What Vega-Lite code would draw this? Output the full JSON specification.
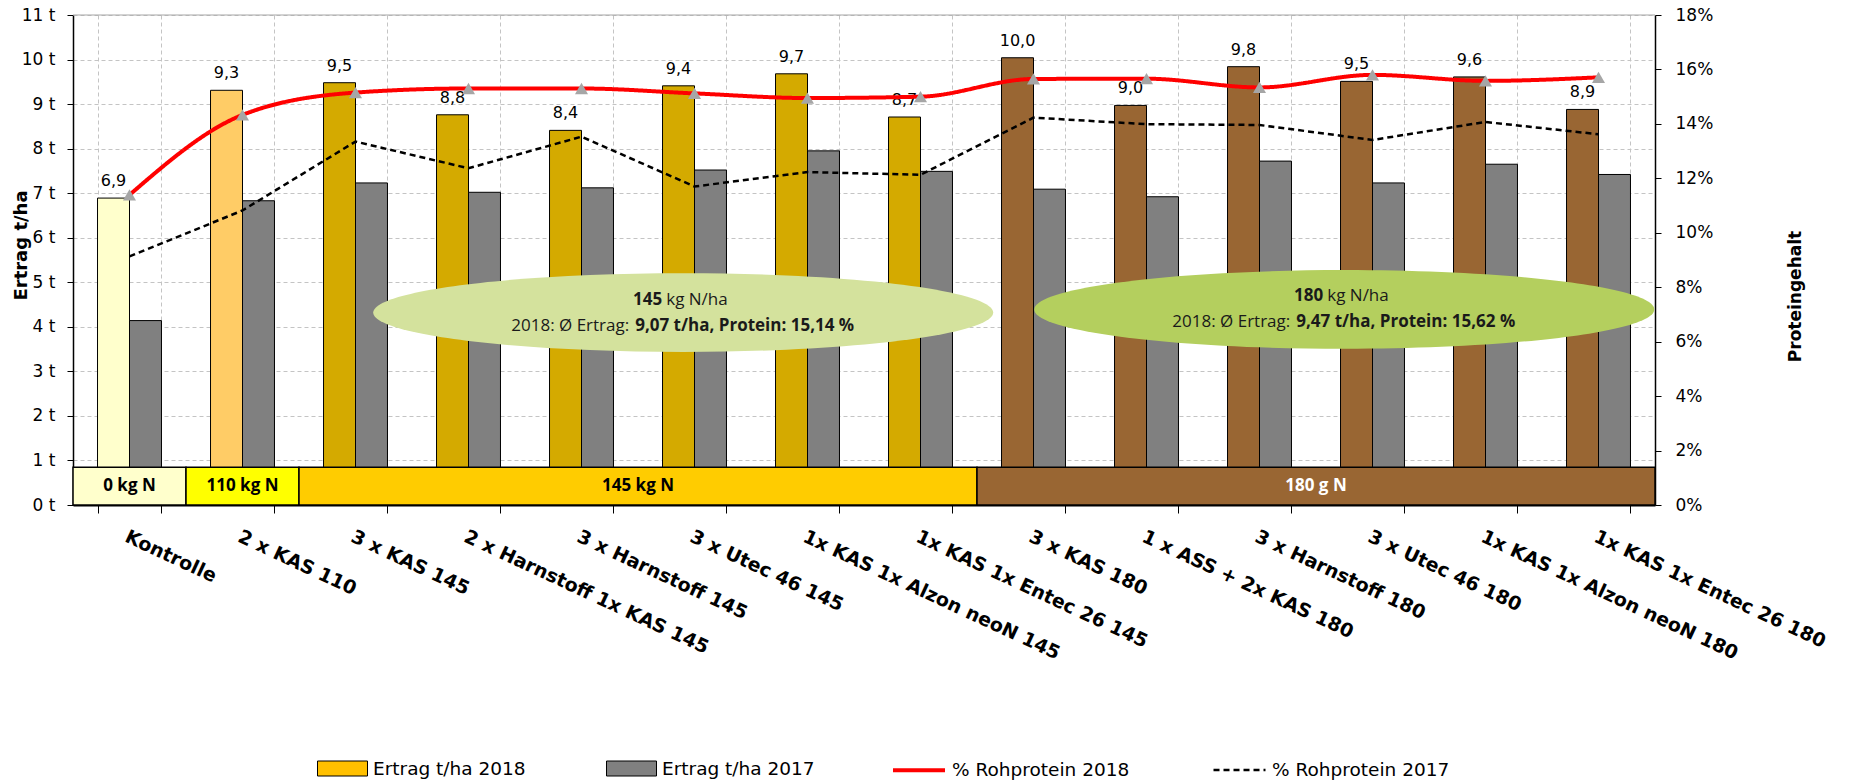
{
  "$schema": "https://vega.github.io/schema/vega-lite/v6.json",
  "autosize": {"type": "none"},
  "padding": {"left": 73, "top": 15, "right": 201, "bottom": 279},
  "width": 1582,
  "height": 490,
  "background": "white",
  "config": {
    "locale": {"number": {"decimal": ",", "thousands": ".", "grouping": [3], "currency": ["", " €"]}},
    "font": "DejaVu Sans",
    "view": {"stroke": null},
    "axis": {"labelFont": "DejaVu Sans", "titleFont": "DejaVu Sans", "labelColor": "black", "titleColor": "black", "domainColor": "black", "tickColor": "black"},
    "axisX": {"title": null, "tickBand": "extent", "labelAngle": 25, "labelAlign": "left", "labelBaseline": "top", "labelFontWeight": "bold", "labelFontSize": 19, "labelPadding": 14, "tickSize": 8, "labelLimit": 0, "labelOverlap": false, "grid": true, "gridDash": [4, 3], "gridColor": "#C4C4C4", "domainWidth": 2},
    "legend": {"labelFont": "DejaVu Sans", "labelColor": "black", "padding": 0}
  },
  "datasets": {
    "ertrag": [
      {"behandlung": "Kontrolle", "jahr": "2018", "ertrag": 6.89, "klasse": "0 kg N"},
      {"behandlung": "2 x KAS  110", "jahr": "2018", "ertrag": 9.31, "klasse": "110 kg N"},
      {"behandlung": "3 x KAS 145", "jahr": "2018", "ertrag": 9.48, "klasse": "145 kg N"},
      {"behandlung": "2 x Harnstoff 1x KAS 145", "jahr": "2018", "ertrag": 8.76, "klasse": "145 kg N"},
      {"behandlung": "3 x Harnstoff 145", "jahr": "2018", "ertrag": 8.41, "klasse": "145 kg N"},
      {"behandlung": "3 x Utec 46 145", "jahr": "2018", "ertrag": 9.41, "klasse": "145 kg N"},
      {"behandlung": "1x KAS 1x Alzon neoN 145", "jahr": "2018", "ertrag": 9.68, "klasse": "145 kg N"},
      {"behandlung": "1x KAS 1x Entec 26 145", "jahr": "2018", "ertrag": 8.71, "klasse": "145 kg N"},
      {"behandlung": "3 x KAS 180", "jahr": "2018", "ertrag": 10.04, "klasse": "180 kg N"},
      {"behandlung": "1 x ASS + 2x KAS 180", "jahr": "2018", "ertrag": 8.97, "klasse": "180 kg N"},
      {"behandlung": "3 x Harnstoff 180", "jahr": "2018", "ertrag": 9.84, "klasse": "180 kg N"},
      {"behandlung": "3 x Utec 46 180", "jahr": "2018", "ertrag": 9.51, "klasse": "180 kg N"},
      {"behandlung": "1x KAS 1x Alzon neoN 180", "jahr": "2018", "ertrag": 9.61, "klasse": "180 kg N"},
      {"behandlung": "1x KAS 1x Entec 26 180", "jahr": "2018", "ertrag": 8.88, "klasse": "180 kg N"},
      {"behandlung": "Kontrolle", "jahr": "2017", "ertrag": 4.14, "klasse": "Ertrag t/ha 2017"},
      {"behandlung": "2 x KAS  110", "jahr": "2017", "ertrag": 6.83, "klasse": "Ertrag t/ha 2017"},
      {"behandlung": "3 x KAS 145", "jahr": "2017", "ertrag": 7.23, "klasse": "Ertrag t/ha 2017"},
      {"behandlung": "2 x Harnstoff 1x KAS 145", "jahr": "2017", "ertrag": 7.02, "klasse": "Ertrag t/ha 2017"},
      {"behandlung": "3 x Harnstoff 145", "jahr": "2017", "ertrag": 7.12, "klasse": "Ertrag t/ha 2017"},
      {"behandlung": "3 x Utec 46 145", "jahr": "2017", "ertrag": 7.52, "klasse": "Ertrag t/ha 2017"},
      {"behandlung": "1x KAS 1x Alzon neoN 145", "jahr": "2017", "ertrag": 7.95, "klasse": "Ertrag t/ha 2017"},
      {"behandlung": "1x KAS 1x Entec 26 145", "jahr": "2017", "ertrag": 7.49, "klasse": "Ertrag t/ha 2017"},
      {"behandlung": "3 x KAS 180", "jahr": "2017", "ertrag": 7.09, "klasse": "Ertrag t/ha 2017"},
      {"behandlung": "1 x ASS + 2x KAS 180", "jahr": "2017", "ertrag": 6.92, "klasse": "Ertrag t/ha 2017"},
      {"behandlung": "3 x Harnstoff 180", "jahr": "2017", "ertrag": 7.72, "klasse": "Ertrag t/ha 2017"},
      {"behandlung": "3 x Utec 46 180", "jahr": "2017", "ertrag": 7.23, "klasse": "Ertrag t/ha 2017"},
      {"behandlung": "1x KAS 1x Alzon neoN 180", "jahr": "2017", "ertrag": 7.65, "klasse": "Ertrag t/ha 2017"},
      {"behandlung": "1x KAS 1x Entec 26 180", "jahr": "2017", "ertrag": 7.42, "klasse": "Ertrag t/ha 2017"}
    ],
    "protein": [
      {"behandlung": "Kontrolle", "serie": "% Rohprotein 2018", "protein": 11.39},
      {"behandlung": "2 x KAS  110", "serie": "% Rohprotein 2018", "protein": 14.33},
      {"behandlung": "3 x KAS 145", "serie": "% Rohprotein 2018", "protein": 15.15},
      {"behandlung": "2 x Harnstoff 1x KAS 145", "serie": "% Rohprotein 2018", "protein": 15.3},
      {"behandlung": "3 x Harnstoff 145", "serie": "% Rohprotein 2018", "protein": 15.3},
      {"behandlung": "3 x Utec 46 145", "serie": "% Rohprotein 2018", "protein": 15.12},
      {"behandlung": "1x KAS 1x Alzon neoN 145", "serie": "% Rohprotein 2018", "protein": 14.95},
      {"behandlung": "1x KAS 1x Entec 26 145", "serie": "% Rohprotein 2018", "protein": 15.0},
      {"behandlung": "3 x KAS 180", "serie": "% Rohprotein 2018", "protein": 15.65},
      {"behandlung": "1 x ASS + 2x KAS 180", "serie": "% Rohprotein 2018", "protein": 15.66},
      {"behandlung": "3 x Harnstoff 180", "serie": "% Rohprotein 2018", "protein": 15.34},
      {"behandlung": "3 x Utec 46 180", "serie": "% Rohprotein 2018", "protein": 15.8},
      {"behandlung": "1x KAS 1x Alzon neoN 180", "serie": "% Rohprotein 2018", "protein": 15.58},
      {"behandlung": "1x KAS 1x Entec 26 180", "serie": "% Rohprotein 2018", "protein": 15.71},
      {"behandlung": "Kontrolle", "serie": "% Rohprotein 2017", "protein": 9.13},
      {"behandlung": "2 x KAS  110", "serie": "% Rohprotein 2017", "protein": 10.82},
      {"behandlung": "3 x KAS 145", "serie": "% Rohprotein 2017", "protein": 13.35},
      {"behandlung": "2 x Harnstoff 1x KAS 145", "serie": "% Rohprotein 2017", "protein": 12.37},
      {"behandlung": "3 x Harnstoff 145", "serie": "% Rohprotein 2017", "protein": 13.53},
      {"behandlung": "3 x Utec 46 145", "serie": "% Rohprotein 2017", "protein": 11.7},
      {"behandlung": "1x KAS 1x Alzon neoN 145", "serie": "% Rohprotein 2017", "protein": 12.23},
      {"behandlung": "1x KAS 1x Entec 26 145", "serie": "% Rohprotein 2017", "protein": 12.13},
      {"behandlung": "3 x KAS 180", "serie": "% Rohprotein 2017", "protein": 14.23},
      {"behandlung": "1 x ASS + 2x KAS 180", "serie": "% Rohprotein 2017", "protein": 13.99},
      {"behandlung": "3 x Harnstoff 180", "serie": "% Rohprotein 2017", "protein": 13.96},
      {"behandlung": "3 x Utec 46 180", "serie": "% Rohprotein 2017", "protein": 13.41},
      {"behandlung": "1x KAS 1x Alzon neoN 180", "serie": "% Rohprotein 2017", "protein": 14.07},
      {"behandlung": "1x KAS 1x Entec 26 180", "serie": "% Rohprotein 2017", "protein": 13.62}
    ],
    "stufen": [
      {"stufe": "0 kg N", "von": 0, "bis": 1},
      {"stufe": "110 kg N", "von": 1, "bis": 2},
      {"stufe": "145 kg N", "von": 2, "bis": 8},
      {"stufe": "180 g N", "von": 8, "bis": 14}
    ],
    "ellipsen": [
      {"gruppe": "145 kg N/ha", "pos": 5.4, "hoehe": 4.32, "z1a": "145", "z1b": "kg N/ha", "z2a": "2018: Ø Ertrag:", "z2b": "9,07 t/ha, Protein: 15,14 %"},
      {"gruppe": "180 kg N/ha", "pos": 11.25, "hoehe": 4.39, "z1a": "180", "z1b": "kg N/ha", "z2a": "2018: Ø Ertrag:", "z2b": "9,47 t/ha, Protein: 15,62 %"}
    ]
  },
  "layer": [
    {
      "layer": [
        {
          "data": {"name": "ertrag"},
          "layer": [
            {
              "mark": {"type": "bar", "stroke": "black", "strokeWidth": 1},
              "encoding": {
                "x": {
                  "field": "behandlung", "type": "nominal", "sort": null, "title": null,
                  "scale": {"domain": ["Kontrolle","2 x KAS  110","3 x KAS 145","2 x Harnstoff 1x KAS 145","3 x Harnstoff 145","3 x Utec 46 145","1x KAS 1x Alzon neoN 145","1x KAS 1x Entec 26 145","3 x KAS 180","1 x ASS + 2x KAS 180","3 x Harnstoff 180","3 x Utec 46 180","1x KAS 1x Alzon neoN 180","1x KAS 1x Entec 26 180"], "paddingInner": 0.434, "paddingOuter": 0.217}
                },
                "xOffset": {"field": "jahr", "type": "nominal", "sort": ["2018", "2017"], "scale": {"paddingInner": 0, "paddingOuter": 0}},
                "y": {
                  "field": "ertrag", "type": "quantitative",
                  "scale": {"domain": [0, 11], "nice": false},
                  "axis": {"title": "Ertrag t/ha", "values": [0,1,2,3,4,5,6,7,8,9,10,11], "labelExpr": "datum.value + ' t'", "grid": true, "gridDash": [4, 3], "gridColor": "#C4C4C4", "tickSize": 6, "labelPadding": 12, "labelFontSize": 17, "titleFontSize": 18, "titleFontWeight": "bold", "titleX": -52, "titleY": 230, "titleAngle": -90, "titleAlign": "center", "titleBaseline": "middle", "domainWidth": 1.5}
                },
                "fill": {
                  "field": "klasse", "type": "nominal",
                  "scale": {"domain": ["Ertrag t/ha 2018", "Ertrag t/ha 2017", "0 kg N", "110 kg N", "145 kg N", "180 kg N"], "range": ["#FFC000", "#808080", "#FFFFCC", "#FFCC66", "#D4AA00", "#996633"]},
                  "legend": {"values": ["Ertrag t/ha 2018", "Ertrag t/ha 2017"], "title": null, "orient": "none", "legendX": 244, "legendY": 728, "direction": "horizontal", "symbolType": "M -1 -0.3 L 1 -0.3 L 1 0.3 L -1 0.3 Z", "symbolSize": 2500, "symbolStrokeColor": "black", "symbolStrokeWidth": 1, "labelFontSize": 18.5, "labelOffset": 5, "columnPadding": 78, "labelLimit": 0}
                }
              }
            },
            {
              "transform": [{"filter": "datum.jahr === '2018'"}],
              "mark": {"type": "text", "fontSize": 16, "baseline": "alphabetic", "dy": -12, "color": "black"},
              "encoding": {
                "x": {"field": "behandlung", "type": "nominal", "sort": null, "title": null},
                "xOffset": {"field": "jahr", "type": "nominal", "sort": ["2018", "2017"]},
                "y": {"field": "ertrag", "type": "quantitative"},
                "text": {"field": "ertrag", "type": "quantitative", "format": ".1f"}
              }
            }
          ]
        },
        {
          "data": {"name": "protein"},
          "layer": [
            {
              "transform": [{"filter": "datum.serie === '% Rohprotein 2017'"}],
              "mark": {"type": "line"},
              "encoding": {
                "x": {"field": "behandlung", "type": "nominal", "sort": null, "title": null},
                "y": {"field": "protein", "type": "quantitative", "scale": {"domain": [0, 18], "nice": false},
                  "axis": {"orient": "right", "title": "Proteingehalt", "values": [0,2,4,6,8,10,12,14,16,18], "labelExpr": "datum.value + '%'", "grid": false, "tickSize": 6, "labelPadding": 14, "labelFontSize": 17, "titleFontSize": 17, "titleFontWeight": "bold", "titleX": 140, "titleY": 281, "titleAngle": -90, "titleAlign": "center", "titleBaseline": "middle", "domainWidth": 1.5}},
                "stroke": {"field": "serie", "type": "nominal", "scale": {"domain": ["% Rohprotein 2018", "% Rohprotein 2017"], "range": ["#FF0000", "#000000"]},
                  "legend": {"title": null, "orient": "none", "legendX": 818, "legendY": 727, "direction": "horizontal", "symbolType": "stroke", "symbolSize": 2704, "labelFontSize": 18.5, "labelOffset": 5, "columnPadding": 78, "labelLimit": 0}},
                "strokeDash": {"field": "serie", "type": "nominal", "scale": {"domain": ["% Rohprotein 2018", "% Rohprotein 2017"], "range": [[1, 0], [6, 4]]}},
                "strokeWidth": {"field": "serie", "type": "nominal", "scale": {"domain": ["% Rohprotein 2018", "% Rohprotein 2017"], "range": [4, 2.5]}}
              }
            },
            {
              "transform": [{"filter": "datum.serie === '% Rohprotein 2018'"}],
              "mark": {"type": "line", "interpolate": "monotone"},
              "encoding": {
                "x": {"field": "behandlung", "type": "nominal", "sort": null, "title": null},
                "y": {"field": "protein", "type": "quantitative"},
                "stroke": {"field": "serie", "type": "nominal"},
                "strokeDash": {"field": "serie", "type": "nominal"},
                "strokeWidth": {"field": "serie", "type": "nominal"}
              }
            },
            {
              "transform": [{"filter": "datum.serie === '% Rohprotein 2018'"}],
              "mark": {"type": "point", "shape": "triangle-up", "filled": true, "size": 170, "color": "#A6A6A6", "opacity": 1},
              "encoding": {
                "x": {"field": "behandlung", "type": "nominal", "sort": null, "title": null},
                "y": {"field": "protein", "type": "quantitative"}
              }
            }
          ]
        }
      ],
      "resolve": {"scale": {"y": "independent"}}
    },
    {
      "layer": [
        {
          "data": {"values": [{"rahmen": "oben"}]},
          "mark": {"type": "rule", "color": "#A6A6A6", "strokeWidth": 1},
          "encoding": {"y": {"datum": 11, "type": "quantitative", "scale": {"domain": [0, 11], "nice": false}, "axis": null}}
        },
        {
          "data": {"name": "stufen"},
          "mark": {"type": "rect", "stroke": "black", "strokeWidth": 1.5},
          "encoding": {
            "x": {"field": "von", "type": "quantitative", "scale": {"domain": [0, 14], "nice": false, "zero": false}, "axis": null},
            "x2": {"field": "bis"},
            "y": {"datum": 0, "type": "quantitative"},
            "y2": {"datum": 0.85},
            "fill": {"field": "stufe", "type": "nominal", "scale": {"domain": ["0 kg N", "110 kg N", "145 kg N", "180 g N", "145 kg N/ha", "180 kg N/ha"], "range": ["#FFFFCC", "#FFFF00", "#FFCC00", "#996633", "#D4E29D", "#B4CF5E"]}, "legend": null}
          }
        },
        {
          "data": {"name": "stufen"},
          "transform": [{"calculate": "(datum.von + datum.bis) / 2", "as": "mitte"}],
          "mark": {"type": "text", "font": "Open Sans", "fontWeight": "bold", "fontSize": 17, "baseline": "middle"},
          "encoding": {
            "x": {"field": "mitte", "type": "quantitative"},
            "y": {"datum": 0.42, "type": "quantitative"},
            "text": {"field": "stufe"},
            "color": {"condition": {"test": "datum.stufe === '180 g N'", "value": "white"}, "value": "black"}
          }
        },
        {
          "data": {"name": "ellipsen"},
          "mark": {"type": "point", "shape": "M -1 0 C -1 -0.0701 -0.5523 -0.127 0 -0.127 C 0.5523 -0.127 1 -0.0701 1 0 C 1 0.0701 0.5523 0.127 0 0.127 C -0.5523 0.127 -1 0.0701 -1 0 Z", "size": 384400, "filled": true, "opacity": 1, "strokeWidth": 0},
          "encoding": {
            "x": {"field": "pos", "type": "quantitative"},
            "y": {"field": "hoehe", "type": "quantitative"},
            "fill": {"field": "gruppe", "type": "nominal", "legend": null}
          }
        },
        {
          "data": {"name": "ellipsen"},
          "mark": {"type": "text", "font": "Open Sans", "fontSize": 17, "fontWeight": "bold", "align": "right", "baseline": "middle", "dx": -21, "dy": -13, "color": "#1A1A1A"},
          "encoding": {"x": {"field": "pos", "type": "quantitative"}, "y": {"field": "hoehe", "type": "quantitative"}, "text": {"field": "z1a"}}
        },
        {
          "data": {"name": "ellipsen"},
          "mark": {"type": "text", "font": "Open Sans", "fontSize": 17, "align": "left", "baseline": "middle", "dx": -17, "dy": -13, "color": "#1A1A1A"},
          "encoding": {"x": {"field": "pos", "type": "quantitative"}, "y": {"field": "hoehe", "type": "quantitative"}, "text": {"field": "z1b"}}
        },
        {
          "data": {"name": "ellipsen"},
          "mark": {"type": "text", "font": "Open Sans", "fontSize": 17, "align": "right", "baseline": "middle", "dx": -54, "dy": 13, "color": "#1A1A1A"},
          "encoding": {"x": {"field": "pos", "type": "quantitative"}, "y": {"field": "hoehe", "type": "quantitative"}, "text": {"field": "z2a"}}
        },
        {
          "data": {"name": "ellipsen"},
          "mark": {"type": "text", "font": "Open Sans", "fontSize": 17, "fontWeight": "bold", "align": "left", "baseline": "middle", "dx": -48, "dy": 13, "color": "#1A1A1A"},
          "encoding": {"x": {"field": "pos", "type": "quantitative"}, "y": {"field": "hoehe", "type": "quantitative"}, "text": {"field": "z2b"}}
        }
      ]
    }
  ],
  "resolve": {"scale": {"x": "independent", "y": "independent", "fill": "independent"}}
}
